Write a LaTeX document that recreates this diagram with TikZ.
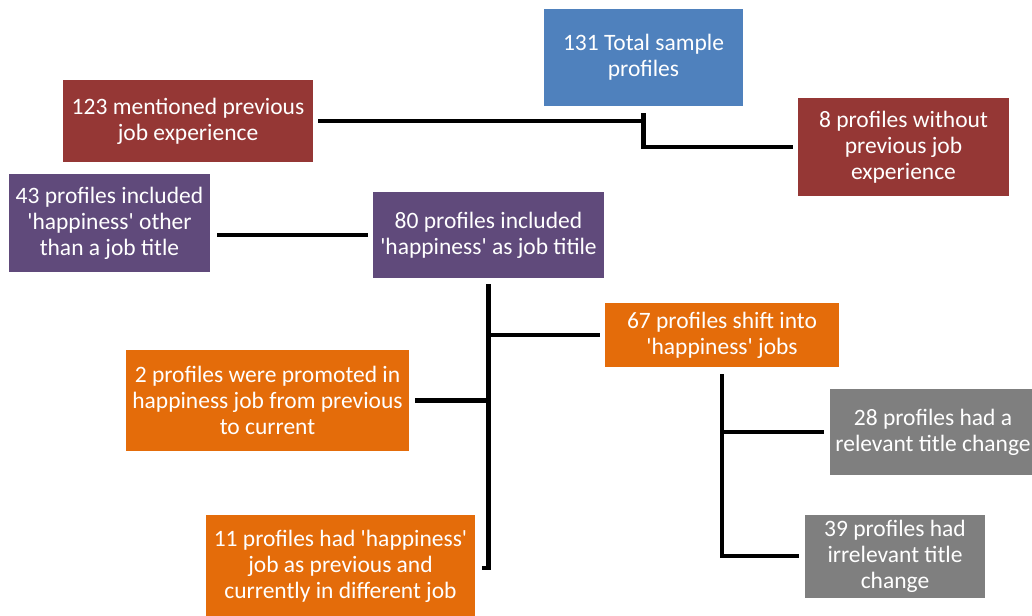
\documentclass[tikz,border=0pt]{standalone}
\usepackage{fontspec}
\setmainfont{Carlito}
\definecolor{cblue}{HTML}{4F81BD}
\definecolor{cred}{HTML}{953735}
\definecolor{cpurple}{HTML}{604A7B}
\definecolor{corange}{HTML}{E46C0A}
\definecolor{cgray}{HTML}{7F7F7F}
\newcommand{\q}{\textquotesingle}
\begin{document}
\begin{tikzpicture}[x=1pt,y=-1pt,
  box/.style={rectangle,inner sep=0pt,text=white,align=center,
    font=\fontsize{23.5}{26}\selectfont},
  conn/.style={draw=black,line width=4.5pt,line join=miter}]
\useasboundingbox (0,0) rectangle (1032,615);
\begin{scope}
\clip (0,0) rectangle (1032,615);
\node[box,fill=cblue,minimum width=199pt,minimum height=97pt] (tot) at (643.5,57.5) {131 Total sample\\profiles};
\node[box,fill=cred,minimum width=250pt,minimum height=82pt] (m123) at (188,121) {123 mentioned previous\\job experience};
\node[box,fill=cred,minimum width=211pt,minimum height=98pt] (p8) at (903.5,147) {8 profiles without\\previous job\\experience};
\node[box,fill=cpurple,minimum width=201pt,minimum height=98pt] (h43) at (109.5,223) {43 profiles included\\\q happiness\q{} other\\than a job title};
\node[box,fill=cpurple,minimum width=231pt,minimum height=86pt] (h80) at (488.5,235) {80 profiles included\\\q happiness\q{} as job titile};
\node[box,fill=corange,minimum width=234pt,minimum height=64pt] (s67) at (722,335) {67 profiles shift into\\\q happiness\q{} jobs};
\node[box,fill=corange,minimum width=283pt,minimum height=101pt] (pr2) at (267.5,400.5) {2 profiles were promoted in\\happiness job from previous\\to current};
\node[box,fill=corange,minimum width=269pt,minimum height=102pt] (o11) at (340.5,566) {11 profiles had \q happiness\q\\job as previous and\\currently in different job};
\node[box,fill=cgray,minimum width=206pt,minimum height=86pt] (g28) at (933,432) {28 profiles had a\\relevant title change};
\node[box,fill=cgray,minimum width=180pt,minimum height=83pt] (g39) at (895,556) {39 profiles had\\irrelevant title\\change};
\end{scope}
% connectors
\draw[conn,shorten <=5pt] (m123.east) -- (m123.east -| tot.south);
\draw[conn,shorten <=7pt,shorten >=5pt] (tot.south) -- (tot.south |- p8.west) -- (p8.west);
\draw[conn,shorten <=5pt,shorten >=7pt] (h80.west) -- (h80.west -| h43.east);
\coordinate (b1) at (488.5,568);
\draw[conn,shorten <=6pt,shorten >=7pt] (h80.south) -- (b1) -- (b1 -| o11.east);
\draw[conn,shorten <=5pt] (s67.west) -- (s67.west -| h80.south);
\draw[conn,shorten <=6pt] (pr2.east) -- (pr2.east -| h80.south);
\draw[conn,shorten <=7pt,shorten >=6pt] (s67.south) -- (s67.south |- g39.west) -- (g39.west);
\draw[conn,shorten <=6pt] (g28.west) -- (g28.west -| s67.south);
\end{tikzpicture}
\end{document}
